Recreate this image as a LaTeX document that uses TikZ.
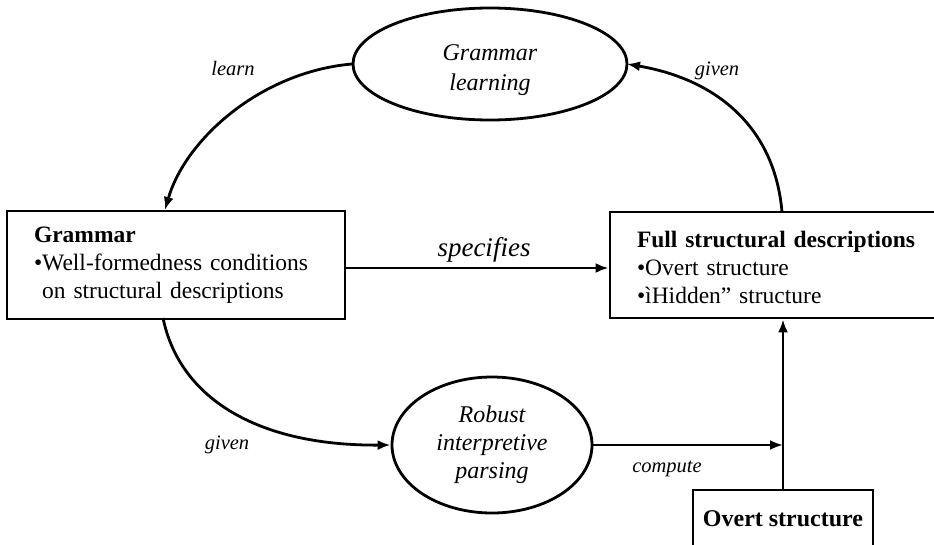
\documentclass[tikz,border=0pt]{standalone}
\usepackage{fontspec}
\setmainfont{Liberation Serif}
\usetikzlibrary{shapes.geometric,arrows.meta}
\tikzset{
  conn/.style={line width=2.8pt,-{Latex[length=13pt,width=10pt]}},
  boxnode/.style={draw,line width=2.8pt,rectangle,inner xsep=27pt,inner ysep=0pt,align=left,font=\fontsize{23.5}{28}\selectfont},
  ellnode/.style={draw,line width=2.8pt,ellipse,inner sep=0pt,align=center,font=\itshape\fontsize{24}{30}\selectfont},
  lbl/.style={font=\itshape\fontsize{20.5}{24}\selectfont,inner sep=0pt},
  biglbl/.style={font=\itshape\fontsize{27}{30}\selectfont,inner sep=0pt}
}
\begin{document}
\begin{tikzpicture}[x=1pt,y=-1pt]
\useasboundingbox (0,0) rectangle (934,544);
\node[ellnode,minimum width=274pt,minimum height=112pt] (gl) at (490,64) {\rule{0pt}{28pt}Grammar\\learning};
\node[ellnode,minimum width=200pt,minimum height=136pt,font=\itshape\fontsize{24}{28}\selectfont] (rob) at (492,445) {Robust\\interpretive\\parsing};
\node[boxnode,minimum width=338pt,minimum height=108pt,text width=284pt] (gram) at (176,265)
  {\textbf{Grammar}\\•Well-formedness conditions\\\phantom{•}on structural descriptions};
\node[boxnode,minimum width=354pt,minimum height=106pt,text width=300pt] (full) at (787,265)
  {\rule{0pt}{21pt}\textbf{Full structural descriptions}\\•Overt structure\\•ìHidden” structure};
\node[draw,line width=2.8pt,rectangle,minimum width=180pt,minimum height=58pt,inner sep=0pt,font=\bfseries\fontsize{24}{28}\selectfont] (ov) at (783,519) {Overt structure};
\coordinate (gramS) at (163,318);
\coordinate (fullN) at (782,212);
\coordinate (glW) at (352,64);
\coordinate (glE) at (627,64);
\coordinate (gramN) at (165,210);
\coordinate (cmp) at (ov.north |- rob.east);
% learn
\draw[conn] (glW) .. controls (260,72) and (185,140) .. (gramN);
\node[lbl] (llearn) at (233,68) {learn};
% given (top)
\draw[conn] (fullN) .. controls (775,130) and (720,80) .. (glE);
\node[lbl] (lgiven1) at (717,71) {given};
% specifies
\draw[conn] (gram.east |- 0,268) -- (full.west |- 0,268);
\node[biglbl] (lspec) at (484,250) {specifies};
% given (bottom)
\draw[conn] (gramS) .. controls (180,400) and (260,446) .. (rob.west);
\node[lbl] (lgiven2) at (227,445) {given};
% compute
\draw[conn] (rob.east) -- (cmp);
\node[lbl] (lcomp) at (667,469) {compute};
% overt to full
\draw[conn] (ov.north) -- (ov.north |- full.south);
\end{tikzpicture}
\end{document}
